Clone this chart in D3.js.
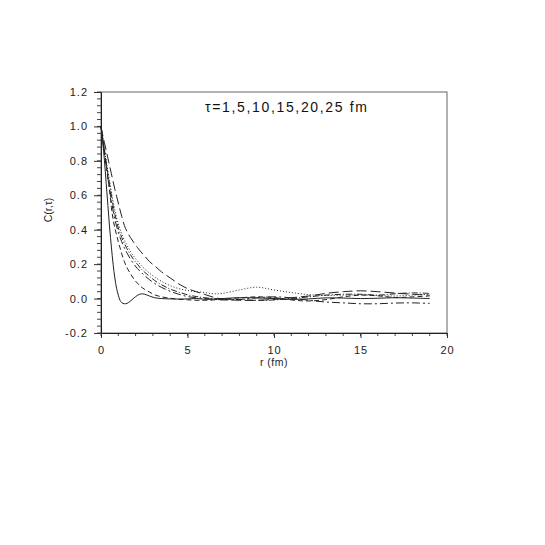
<!DOCTYPE html>
<html>
<head>
<meta charset="utf-8">
<script src="https://cdn.jsdelivr.net/npm/d3@7"></script>
<style>
html,body{margin:0;padding:0;background:#fff;}
svg{display:block;font-family:"Liberation Sans",Arial,Helvetica,sans-serif;}
</style>
</head>
<body>
<svg id="chart" width="545" height="545"></svg>
<script>
// ---- data ----
const rValues = [0, 0.1, 0.2, 0.3, 0.4, 0.5, 0.6, 0.7, 0.8, 0.9, 1.0, 1.1, 1.2, 1.35, 1.5, 1.7, 1.9, 2.1, 2.3, 2.5, 2.8, 3.1, 3.5, 4, 4.5, 5, 5.5, 6, 6.5, 7, 8, 9, 10, 11, 12, 13, 14, 15, 16, 17, 18, 19];
const tauLabels = [1, 5, 10, 15, 20, 25];
const c_tau1  = [1.0, 0.91, 0.80, 0.67, 0.54, 0.41, 0.30, 0.20, 0.12, 0.06, 0.02, -0.01, -0.024, -0.03, -0.028, -0.015, 0.003, 0.018, 0.027, 0.026, 0.015, 0.005, 0.0, -0.002, -0.003, -0.002, 0.0, -0.004, -0.003, 0.0, 0.005, 0.004, 0.0, -0.005, -0.002, 0.004, 0.003, 0.0, 0.002, 0.005, 0.003, 0.0];
const c_tau5  = [1.0, 0.93, 0.86, 0.78, 0.70, 0.63, 0.53, 0.46, 0.41, 0.37, 0.33, 0.295, 0.26, 0.215, 0.18, 0.145, 0.113, 0.09, 0.07, 0.055, 0.038, 0.022, 0.01, 0.002, -0.004, -0.007, -0.01, -0.01, -0.008, -0.005, 0.004, 0.01, 0.006, -0.008, -0.014, -0.006, 0.01, 0.02, 0.016, 0.006, 0.01, 0.015];
const c_tau10 = [1.0, 0.92, 0.84, 0.77, 0.70, 0.63, 0.57, 0.51, 0.46, 0.42, 0.385, 0.355, 0.33, 0.295, 0.265, 0.23, 0.20, 0.175, 0.155, 0.135, 0.11, 0.088, 0.065, 0.042, 0.025, 0.012, 0.004, 0.0, -0.004, -0.008, -0.005, 0.004, 0.01, 0.004, -0.01, -0.02, -0.025, -0.03, -0.03, -0.026, -0.025, -0.028];
const c_tau15 = [1.0, 0.93, 0.86, 0.79, 0.72, 0.66, 0.60, 0.54, 0.49, 0.45, 0.41, 0.38, 0.355, 0.32, 0.29, 0.255, 0.225, 0.20, 0.175, 0.155, 0.13, 0.105, 0.08, 0.055, 0.037, 0.022, 0.012, 0.005, 0.0, -0.003, -0.006, -0.01, -0.008, 0.0, 0.01, 0.02, 0.025, 0.025, 0.02, 0.028, 0.033, 0.03];
const c_tau20 = [1.0, 0.93, 0.87, 0.80, 0.74, 0.68, 0.62, 0.565, 0.515, 0.47, 0.435, 0.405, 0.375, 0.34, 0.31, 0.275, 0.245, 0.22, 0.195, 0.175, 0.148, 0.125, 0.10, 0.075, 0.058, 0.047, 0.04, 0.035, 0.028, 0.03, 0.05, 0.066, 0.05, 0.035, 0.023, 0.018, 0.02, 0.022, 0.018, 0.015, 0.02, 0.025];
const c_tau25 = [1.0, 0.95, 0.905, 0.86, 0.815, 0.77, 0.725, 0.68, 0.635, 0.595, 0.555, 0.515, 0.477, 0.425, 0.39, 0.355, 0.325, 0.297, 0.272, 0.25, 0.215, 0.19, 0.155, 0.12, 0.085, 0.058, 0.04, 0.024, 0.008, -0.003, -0.01, -0.01, -0.005, 0.005, 0.015, 0.03, 0.04, 0.045, 0.04, 0.032, 0.025, 0.02];
const xTicks = [0, 5, 10, 15, 20];
const yTicks = [-0.2, 0.0, 0.2, 0.4, 0.6, 0.8, 1.0, 1.2];
const titleText = "\u03c4=1,5,10,15,20,25 fm";
const xLabel = "r (fm)";
const yLabel = "C(r,\u03c4)";

// ---- styles ----
const series = [c_tau1, c_tau5, c_tau10, c_tau15, c_tau20, c_tau25];
const dashes = [null, "5,3", "8,3,2,3", "6,2,1,2", "1,2", "10,4"];

const svg = d3.select("#chart");
const L = 101, R = 447, T = 92, B = 333;
const x = d3.scaleLinear().domain([0, 20]).range([L, R]);
const y = d3.scaleLinear().domain([-0.2, 1.2]).range([B, T]);

// frame
svg.append("rect").attr("x", L).attr("y", T).attr("width", R - L).attr("height", B - T)
  .attr("fill", "none").attr("stroke", "#666").attr("stroke-width", 1);

// y axis
const yMinor = d3.range(-0.2, 1.2001, 0.04);
svg.append("g").selectAll("line").data(yMinor).join("line")
  .attr("x1", L - 4).attr("x2", L).attr("y1", d => y(d)).attr("y2", d => y(d))
  .attr("stroke", "#444").attr("stroke-width", 1);
const yAxis = d3.axisLeft(y).tickValues(yTicks).tickSize(7).tickPadding(6).tickFormat(d3.format(".1f"));
const gy = svg.append("g").attr("transform", `translate(${L},0)`).call(yAxis);
gy.select(".domain").attr("stroke", "#222");
gy.selectAll(".tick line").attr("stroke", "#333");
gy.selectAll(".tick text").attr("font-size", 11).attr("letter-spacing", 1).attr("fill", "#222")
  .attr("font-family", "'Liberation Sans',Arial,sans-serif").text(d => d3.format(".1f")(d).replace("\u2212", "-"));

// x axis
const xMinor = d3.range(0, 21, 1);
svg.append("g").selectAll("line").data(xMinor).join("line")
  .attr("x1", d => x(d)).attr("x2", d => x(d)).attr("y1", B).attr("y2", B + 3)
  .attr("stroke", "#444").attr("stroke-width", 1);
const xAxis = d3.axisBottom(x).tickValues(xTicks).tickSize(5).tickPadding(8).tickFormat(d3.format("d"));
const gx = svg.append("g").attr("transform", `translate(0,${B})`).call(xAxis);
gx.select(".domain").attr("stroke", "#222");
gx.selectAll(".tick line").attr("stroke", "#333");
gx.selectAll(".tick text").attr("font-size", 11).attr("letter-spacing", 1).attr("fill", "#222")
  .attr("font-family", "'Liberation Sans',Arial,sans-serif");

// curves
const line = d3.line().x((d, i) => x(rValues[i])).y(d => y(d)).curve(d3.curveCatmullRom.alpha(0.5));
series.forEach((s, k) => {
  svg.append("path").datum(s).attr("d", line)
    .attr("fill", "none").attr("stroke", "#222").attr("stroke-width", 1)
    .attr("stroke-dasharray", dashes[k]);
});

// texts
svg.append("text").attr("x", 205).attr("y", 112).attr("font-size", 14)
  .attr("textLength", 162).attr("lengthAdjust", "spacing").attr("fill", "#111").text(titleText);
svg.append("text").attr("x", (L + R) / 2).attr("y", 366).attr("text-anchor", "middle")
  .attr("font-size", 10.5).attr("letter-spacing", 0.5).attr("fill", "#222").text(xLabel);
svg.append("text").attr("transform", "translate(52,210) rotate(-90)").attr("text-anchor", "middle")
  .attr("font-size", 10.5).attr("fill", "#222").text(yLabel);
</script>
</body>
</html>
